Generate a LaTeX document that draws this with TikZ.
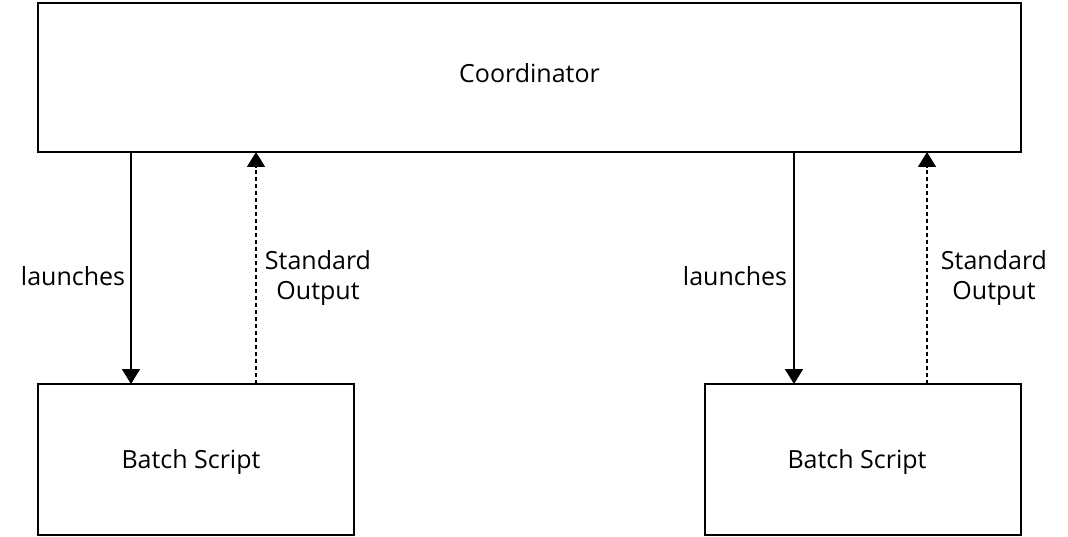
\documentclass[tikz,border=0pt]{standalone}
\usepackage{fontspec}
\setmainfont{Open Sans}
\usetikzlibrary{arrows.meta}
\begin{document}
\begin{tikzpicture}[x=1pt,y=1pt,
  box/.style={draw, line width=1.8pt},
  lbl/.style={font=\fontsize{25}{30}\selectfont, align=center, inner sep=0pt},
  solidarr/.style={line width=1.6pt, -{Triangle[width=18pt,length=15pt]}},
  dotarr/.style={line width=1.6pt, dash pattern=on 4pt off 3pt, -{Triangle[width=18pt,length=15pt]}}]
\useasboundingbox (0,0) rectangle (1068,536);
\draw[box] (38,533) rectangle (1021,384);
\node[lbl] (coord) at (529.5,463) {Coordinator};
\draw[box] (38,152) rectangle (354,1);
\node[lbl] (b1) at (191,74) {Batch Script};
\draw[box] (705,152) rectangle (1021,1);
\node[lbl] (b2) at (857,74) {Batch Script};
\coordinate (l1t) at (131,384);
\coordinate (l1b) at (131,152);
\coordinate (s1b) at (256,152);
\coordinate (s1t) at (256,384);
\coordinate (l2t) at (794,384);
\coordinate (l2b) at (794,152);
\coordinate (s2b) at (927,152);
\coordinate (s2t) at (927,384);
\draw[solidarr] (l1t) -- (l1b);
\draw[dotarr] (s1b) -- (s1t);
\draw[solidarr] (l2t) -- (l2b);
\draw[dotarr] (s2b) -- (s2t);
\node[lbl] (la1) at (73,260) {launches};
\node[lbl] (so1) at (318,258) {Standard\\Output};
\node[lbl] (la2) at (735,260) {launches};
\node[lbl] (so2) at (994,258) {Standard\\Output};
\end{tikzpicture}
\end{document}
